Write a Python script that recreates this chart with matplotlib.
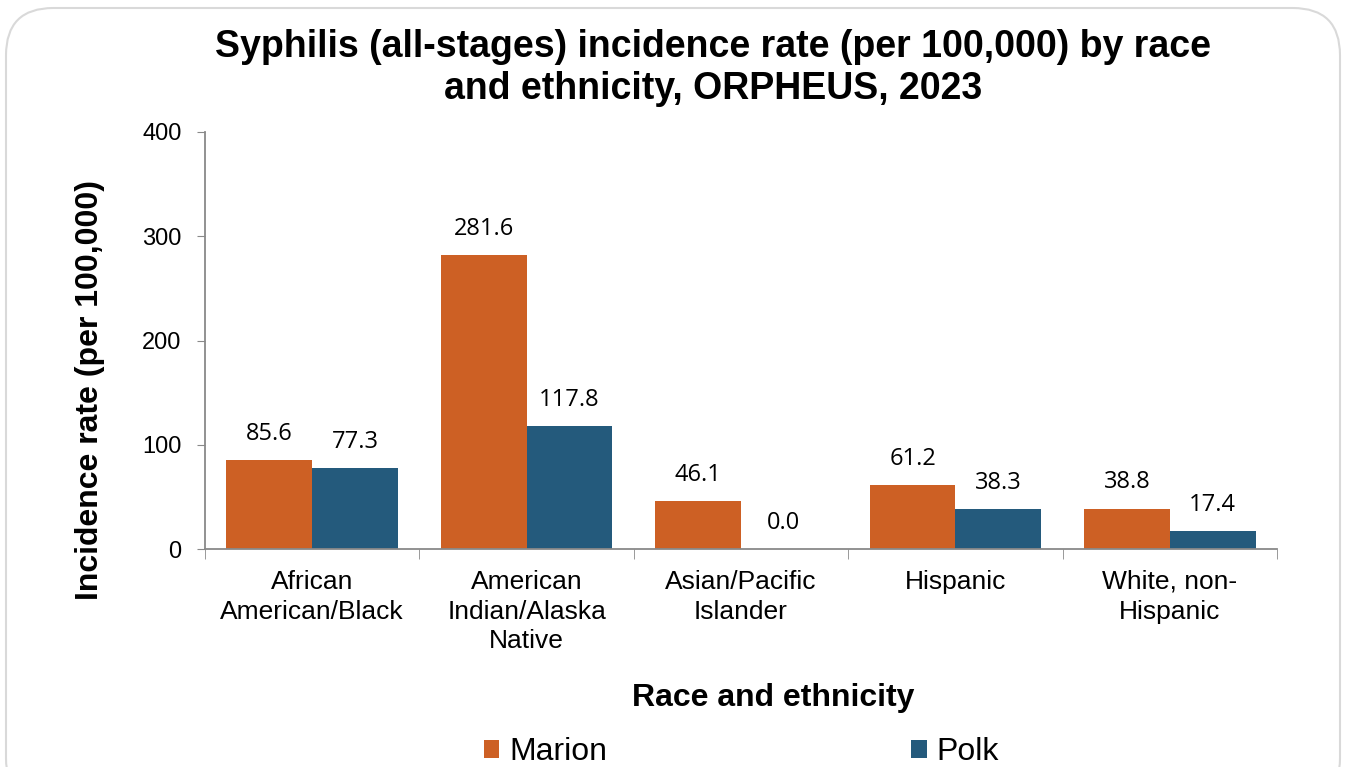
import numpy as np
import matplotlib
matplotlib.use('Agg')
import matplotlib.pyplot as plt
from matplotlib.patches import FancyBboxPatch

categories = ['African\nAmerican/Black', 'American\nIndian/Alaska\nNative',
              'Asian/Pacific\nIslander', 'Hispanic', 'White, non-\nHispanic']
marion = [85.6, 281.6, 46.1, 61.2, 38.8]
polk = [77.3, 117.8, 0.0, 38.3, 17.4]
series_names = ['Marion', 'Polk']
colors = ['#CD6024', '#245A7C']

plt.rcParams['font.family'] = ['Liberation Sans', 'DejaVu Sans']

W, H = 1351, 767
fig = plt.figure(figsize=(W / 100, H / 100), dpi=100)
ax = fig.add_axes([205 / W, 1 - 549 / H, (1277 - 205) / W, (549 - 132) / H])

# rounded frame around the chart area
frame = FancyBboxPatch((6 / W, -0.05), 1334 / W, 1.0 - 8 / H + 0.05,
                       boxstyle='round,pad=0,rounding_size=0.035',
                       transform=fig.transFigure, facecolor='white',
                       edgecolor='#d9d9d9', linewidth=1.5, zorder=-10,
                       mutation_aspect=W / H)
fig.patches.append(frame)

x = np.arange(len(categories))
w = 0.4
b1 = ax.bar(x - w / 2, marion, w, color=colors[0], label=series_names[0])
b2 = ax.bar(x + w / 2, polk, w, color=colors[1], label=series_names[1])

for bars, vals in ((b1, marion), (b2, polk)):
    for r, v in zip(bars, vals):
        ax.text(r.get_x() + r.get_width() / 2, v + 25, '%.1f' % v,
                ha='center', va='center', fontsize=17, family='Open Sans')

ax.set_xlim(-0.5, len(categories) - 0.5)
ax.set_ylim(0, 400)
ax.set_yticks([0, 100, 200, 300, 400])
ax.tick_params(axis='y', labelsize=17, length=6, color='#898989', pad=11)
ax.set_xticks(x)
ax.set_xticklabels(categories, fontsize=19, linespacing=1.3)
ax.tick_params(axis='x', length=0, pad=15)
ax.set_xticks(np.arange(len(categories) + 1) - 0.5, minor=True)
ax.tick_params(axis='x', which='minor', length=7, color='#898989')

for s in ['top', 'right']:
    ax.spines[s].set_visible(False)
for s in ['left', 'bottom']:
    ax.spines[s].set_color('#898989')
    ax.spines[s].set_linewidth(1.3)

ax.set_ylabel('Incidence rate (per 100,000)', fontsize=23, fontweight='bold')
ax.yaxis.set_label_coords((90 - 205) / (1277 - 205), (549 - 390) / (549 - 132))
ax.yaxis.label.set_va('center')
ax.set_xlabel('Race and ethnicity', fontsize=23, fontweight='bold')
ax.xaxis.set_label_coords((773 - 205) / (1277 - 205), -(698 - 549) / (549 - 132))
ax.xaxis.label.set_va('center')
fig.text(713 / W, 1 - 68 / H,
         'Syphilis (all-stages) incidence rate (per 100,000) by race\nand ethnicity, ORPHEUS, 2023',
         ha='center', va='center', fontsize=27, fontweight='bold', linespacing=1.2)

fig.legend(loc='center', bbox_to_anchor=(741 / W, 1 - 752 / H), ncol=2, frameon=False,
           fontsize=23, columnspacing=9.5, handlelength=0.5, handleheight=0.5,
           handletextpad=0.3)

fig.savefig('out.png', dpi=100)
